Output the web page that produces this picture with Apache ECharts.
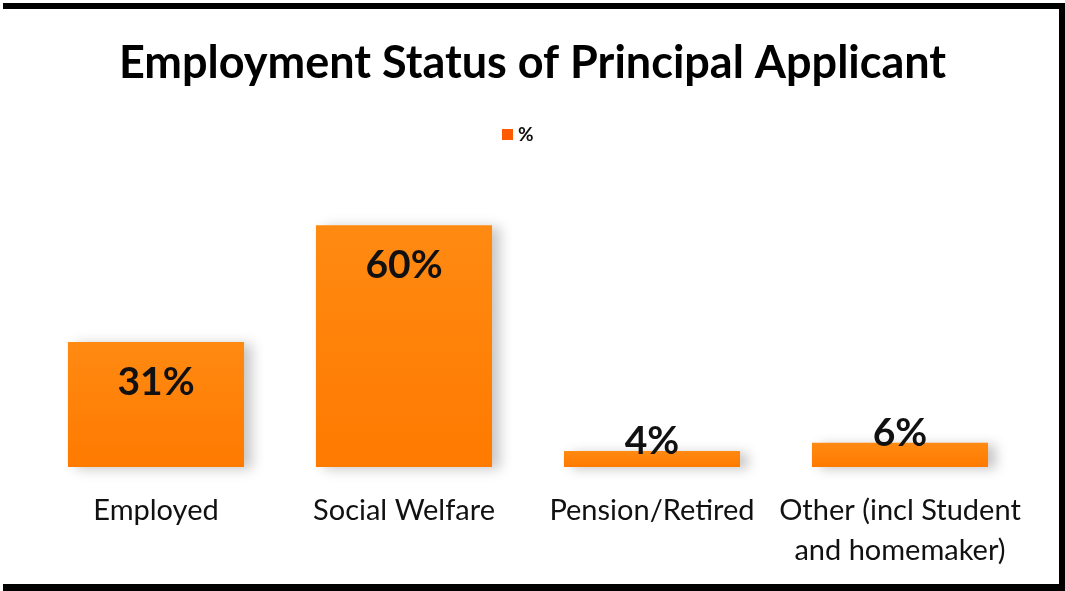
<!DOCTYPE html>
<html>
<head>
<meta charset="utf-8">
<title>Employment Status of Principal Applicant</title>
<script src="https://cdn.jsdelivr.net/npm/echarts@6/dist/echarts.min.js"></script>
<style>
  html, body {
    margin: 0;
    padding: 0;
    background: #fff;
  }
  .page {
    position: relative;
    width: 1065px;
    height: 591px;
    overflow: hidden;
  }
  #chart {
    position: absolute;
    left: 0;
    top: 0;
    width: 1065px;
    height: 591px;
  }
  /* black scan frame: top, right and bottom only */
  .frame {
    position: absolute;
    left: 3px;
    top: 3px;
    right: 0;
    bottom: 0;
    border-top: 6px solid #000;
    border-right: 6px solid #000;
    border-bottom: 7px solid #000;
    pointer-events: none;
  }
</style>
</head>
<body>
<div class="page">
  <div id="chart"></div>
  <div class="frame"></div>
</div>
<script>
const categories = ['Employed', 'Social Welfare', 'Pension/Retired', 'Other (incl Student\nand homemaker)']
const percentValues = [31, 60, 4, 6]
const seriesName = '%'

const chart = echarts.init(document.getElementById('chart'))

// big bars carry the label inside, the thin ones sit it on top
const barData = percentValues.map(v => ({
  value: v,
  label: v > 15
    ? { position: 'insideTop', distance: 21 }
    : { position: 'top', distance: -10 }
}))

chart.setOption({
  backgroundColor: '#fff',
  title: {
    text: 'Employment Status of Principal Applicant',
    left: 'center',
    top: 36,
    textStyle: {
      fontFamily: 'Lato',
      fontWeight: 'bold',
      fontSize: 45,
      color: '#000'
    }
  },
  legend: {
    left: 497,
    top: 120,
    itemWidth: 11,
    itemHeight: 11,
    itemGap: 10,
    icon: 'rect',
    data: [{ name: seriesName, itemStyle: { color: '#ff5a00' } }],
    textStyle: {
      fontFamily: 'Lato',
      fontWeight: 'bold',
      fontSize: 19,
      color: '#111'
    }
  },
  grid: {
    left: 32,
    right: 41,
    top: 185,
    bottom: 124
  },
  xAxis: {
    type: 'category',
    data: categories,
    axisLine: { show: false },
    axisTick: { show: false },
    axisLabel: {
      margin: 24,
      fontFamily: 'Lato',
      fontSize: 29,
      lineHeight: 40,
      color: '#111',
      interval: 0
    }
  },
  yAxis: {
    type: 'value',
    min: 0,
    max: 70,
    show: false,
    splitLine: { show: false }
  },
  series: [{
    name: seriesName,
    type: 'bar',
    data: barData,
    barCategoryGap: '29%',
    itemStyle: {
      color: new echarts.graphic.LinearGradient(0, 0, 0, 1, [
        { offset: 0, color: '#ff8a12' },
        { offset: 1, color: '#ff7a00' }
      ]),
      shadowColor: 'rgba(0, 0, 0, 0.22)',
      shadowBlur: 12,
      shadowOffsetX: 8,
      shadowOffsetY: 2
    },
    label: {
      show: true,
      formatter: '{c}%',
      fontFamily: 'Lato',
      fontWeight: 'bold',
      fontSize: 39,
      color: '#111'
    }
  }]
})
</script>
</body>
</html>
